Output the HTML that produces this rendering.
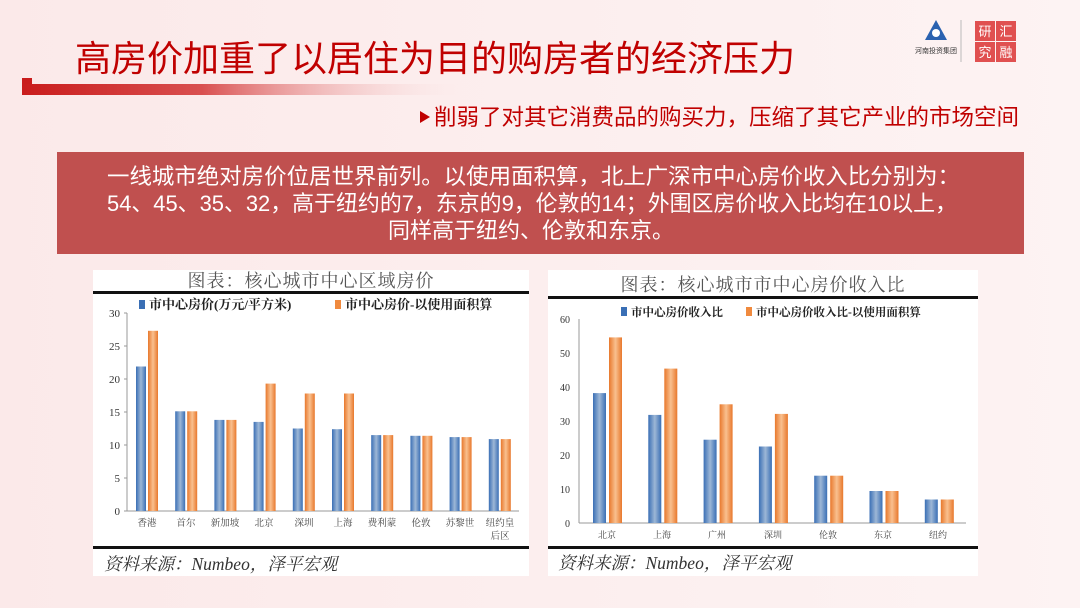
<!DOCTYPE html><html><head><meta charset="utf-8"><style>
body{margin:0;width:1080px;height:608px;overflow:hidden;background:#fdeeee;font-family:"Liberation Sans","Noto Sans CJK SC",sans-serif}
</style></head><body>
<svg width="1080" height="608" xmlns="http://www.w3.org/2000/svg" style="position:absolute;left:0;top:0" font-family="Liberation Serif, Noto Serif CJK SC, serif">
<defs>
<linearGradient id="bg" x1="0" x2="1"><stop offset="0" stop-color="#fbe9e9"/><stop offset="1" stop-color="#fdf3f3"/></linearGradient>
<linearGradient id="rl" x1="0" x2="1"><stop offset="0" stop-color="#c91c1c"/><stop offset="0.4" stop-color="#d95050"/><stop offset="1" stop-color="#fdeeee" stop-opacity="0"/></linearGradient>
<linearGradient id="b" x1="0" x2="1"><stop offset="0" stop-color="#3a6fb5"/><stop offset="0.5" stop-color="#9db7d6"/><stop offset="1" stop-color="#3a6fb5"/></linearGradient>
<linearGradient id="o" x1="0" x2="1"><stop offset="0" stop-color="#e8782c"/><stop offset="0.5" stop-color="#f9c08f"/><stop offset="1" stop-color="#e8782c"/></linearGradient>
</defs>
<rect width="1080" height="608" fill="url(#bg)"/>
<text x="75" y="71" font-family="Liberation Sans, Noto Sans CJK SC, sans-serif" font-size="36" fill="#c00000">高房价加重了以居住为目的购房者的经济压力</text>
<rect x="22" y="78" width="10" height="17" fill="#c91c1c"/>
<rect x="22" y="84" width="450" height="11" fill="url(#rl)"/>
<polygon points="936,20 925,40 947,40" fill="#2a62b0"/><circle cx="936" cy="33" r="4" fill="#fff"/>
<text x="936" y="53" font-size="7" text-anchor="middle" font-family="Noto Sans CJK SC,sans-serif" fill="#333">河南投资集团</text>
<line x1="961" y1="20" x2="961" y2="62" stroke="#bbb"/>
<rect x="975" y="21" width="20" height="20" fill="#e05050"/><rect x="996" y="21" width="20" height="20" fill="#e05050"/>
<rect x="975" y="42" width="20" height="20" fill="#e05050"/><rect x="996" y="42" width="20" height="20" fill="#e05050"/>
<text x="985" y="36" font-size="13" fill="#fff" text-anchor="middle" font-family="Noto Sans CJK SC,sans-serif">研</text>
<text x="1006" y="36" font-size="13" fill="#fff" text-anchor="middle" font-family="Noto Sans CJK SC,sans-serif">汇</text>
<text x="985" y="57" font-size="13" fill="#fff" text-anchor="middle" font-family="Noto Sans CJK SC,sans-serif">究</text>
<text x="1006" y="57" font-size="13" fill="#fff" text-anchor="middle" font-family="Noto Sans CJK SC,sans-serif">融</text>
<polygon points="420,111 420,123 430,117" fill="#c00000"/>
<text x="434" y="125" font-family="Liberation Sans, Noto Sans CJK SC, sans-serif" font-size="22.5" fill="#c00000">削弱了对其它消费品的购买力，压缩了其它产业的市场空间</text>
<rect x="57" y="152" width="967" height="102" fill="#c0504f"/>
<g font-family="Liberation Sans, Noto Sans CJK SC, sans-serif" font-size="22" fill="#fff">
<text x="107" y="184" textLength="853" lengthAdjust="spacingAndGlyphs">一线城市绝对房价位居世界前列。以使用面积算，北上广深市中心房价收入比分别为：</text>
<text x="107" y="211" textLength="850" lengthAdjust="spacingAndGlyphs">54、45、35、32，高于纽约的7，东京的9，伦敦的14；外围区房价收入比均在10以上，</text>
<text x="531" y="238" text-anchor="middle">同样高于纽约、伦敦和东京。</text>
</g>
<!-- chart 1 -->
<rect x="93" y="270" width="436" height="306" fill="#fff"/>
<text x="311" y="287" font-size="18" fill="#555" text-anchor="middle" letter-spacing="1">图表：核心城市中心区域房价</text>
<rect x="93" y="291" width="436" height="3" fill="#111"/>
<rect x="93" y="546" width="436" height="3" fill="#111"/>
<text x="104" y="570" font-size="17.5" font-style="italic" fill="#333">资料来源：Numbeo，泽平宏观</text>
<rect x="139" y="300" width="6" height="9" fill="#3a6fb5"/><text x="149" y="309" font-size="13" font-weight="bold" fill="#222">市中心房价(万元/平方米)</text>
<rect x="335" y="300" width="6" height="9" fill="#f08a3e"/><text x="345" y="309" font-size="13" font-weight="bold" fill="#222">市中心房价-以使用面积算</text>
<g font-size="11" fill="#333" text-anchor="end">
<text x="120" y="317">30</text><text x="120" y="350">25</text><text x="120" y="383">20</text><text x="120" y="416">15</text><text x="120" y="449">10</text><text x="120" y="482">5</text><text x="120" y="515">0</text></g>
<g stroke="#999"><line x1="127" y1="313" x2="127" y2="511"/><line x1="127" y1="511" x2="519" y2="511"/>
<line x1="124" y1="313" x2="127" y2="313"/><line x1="124" y1="346" x2="127" y2="346"/><line x1="124" y1="379" x2="127" y2="379"/><line x1="124" y1="412" x2="127" y2="412"/><line x1="124" y1="445" x2="127" y2="445"/><line x1="124" y1="478" x2="127" y2="478"/><line x1="124" y1="511" x2="127" y2="511"/></g>
<g fill="url(#b)">
<rect x="136" y="366.5" width="10" height="144.5"/><rect x="175.2" y="411.3" width="10" height="99.7"/><rect x="214.4" y="419.9" width="10" height="91.1"/><rect x="253.6" y="421.9" width="10" height="89.1"/><rect x="292.8" y="428.5" width="10" height="82.5"/><rect x="332" y="429.2" width="10" height="81.8"/><rect x="371.2" y="435.1" width="10" height="75.9"/><rect x="410.4" y="435.8" width="10" height="75.2"/><rect x="449.6" y="437.1" width="10" height="73.9"/><rect x="488.8" y="439.1" width="10" height="71.9"/></g>
<g fill="url(#o)">
<rect x="148" y="330.8" width="10" height="180.2"/><rect x="187.2" y="411.3" width="10" height="99.7"/><rect x="226.4" y="419.9" width="10" height="91.1"/><rect x="265.6" y="383.6" width="10" height="127.4"/><rect x="304.8" y="393.5" width="10" height="117.5"/><rect x="344" y="393.5" width="10" height="117.5"/><rect x="383.2" y="435.1" width="10" height="75.9"/><rect x="422.4" y="435.8" width="10" height="75.2"/><rect x="461.6" y="437.1" width="10" height="73.9"/><rect x="500.8" y="439.1" width="10" height="71.9"/></g>
<g font-size="9.5" fill="#444" text-anchor="middle" font-family="Noto Serif CJK SC, serif">
<text x="147" y="526">香港</text><text x="186" y="526">首尔</text><text x="225" y="526">新加坡</text><text x="264" y="526">北京</text><text x="304" y="526">深圳</text><text x="343" y="526">上海</text><text x="382" y="526">费利蒙</text><text x="421" y="526">伦敦</text><text x="460" y="526">苏黎世</text><text x="500" y="526">纽约皇</text><text x="500" y="539">后区</text></g>
<!-- chart 2 -->
<rect x="548" y="270" width="430" height="306" fill="#fff"/>
<text x="763" y="291" font-size="18" fill="#555" text-anchor="middle" letter-spacing="1">图表：核心城市市中心房价收入比</text>
<rect x="548" y="296" width="430" height="3" fill="#111"/>
<rect x="548" y="546" width="430" height="3" fill="#111"/>
<text x="558" y="569" font-size="17.5" font-style="italic" fill="#333">资料来源：Numbeo，泽平宏观</text>
<rect x="621" y="307" width="6" height="9" fill="#3a6fb5"/><text x="631" y="316" font-size="11.5" font-weight="bold" fill="#222">市中心房价收入比</text>
<rect x="746" y="307" width="6" height="9" fill="#f08a3e"/><text x="756" y="316" font-size="11.5" font-weight="bold" fill="#222">市中心房价收入比-以使用面积算</text>
<g font-size="10" fill="#333" text-anchor="end">
<text x="570" y="323">60</text><text x="570" y="357">50</text><text x="570" y="391">40</text><text x="570" y="425">30</text><text x="570" y="459">20</text><text x="570" y="493">10</text><text x="570" y="527">0</text></g>
<g stroke="#999"><line x1="579" y1="319" x2="579" y2="523"/><line x1="579" y1="523" x2="966" y2="523"/></g>
<g fill="url(#b)">
<rect x="593" y="393.1" width="13" height="129.9"/><rect x="648.3" y="414.9" width="13" height="108.1"/><rect x="703.6" y="439.7" width="13" height="83.3"/><rect x="758.9" y="446.5" width="13" height="76.5"/><rect x="814.2" y="475.7" width="13" height="47.3"/><rect x="869.5" y="491" width="13" height="32"/><rect x="924.8" y="499.5" width="13" height="23.5"/></g>
<g fill="url(#o)">
<rect x="609" y="337.4" width="13" height="185.6"/><rect x="664.3" y="368.6" width="13" height="154.4"/><rect x="719.6" y="404.3" width="13" height="118.7"/><rect x="774.9" y="413.9" width="13" height="109.1"/><rect x="830.2" y="475.7" width="13" height="47.3"/><rect x="885.5" y="491" width="13" height="32"/><rect x="940.8" y="499.5" width="13" height="23.5"/></g>
<g font-size="9" fill="#444" text-anchor="middle" font-family="Noto Serif CJK SC, serif">
<text x="607" y="538">北京</text><text x="662" y="538">上海</text><text x="717" y="538">广州</text><text x="773" y="538">深圳</text><text x="828" y="538">伦敦</text><text x="883" y="538">东京</text><text x="938" y="538">纽约</text></g>
</svg>
</body></html>
